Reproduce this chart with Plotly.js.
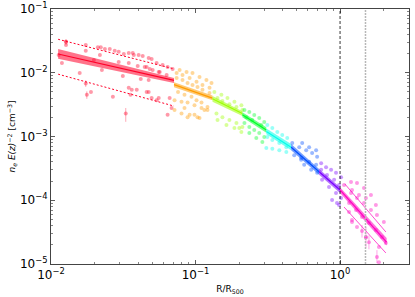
<!DOCTYPE html>
<html><head><meta charset="utf-8">
<script src="https://cdn.plot.ly/plotly-3.0.1.min.js"></script>
<style>html,body{margin:0;padding:0;background:#fff}#chart{width:415px;height:297px}</style>
</head><body><div id="chart"></div>
<script>
// segment colours (gist_rainbow samples)
const segColors = ['#ff0029','#ff9c00','#9dff00','#00ff28','#00ffea','#004eff','#7900ff','#ff00bf'];
// segment extents and fitted central profile
const segStart = [0.0112, 0.071, 0.131, 0.211, 0.309, 0.459, 0.716, 1.0];
const segEnd   = [0.071, 0.131, 0.211, 0.309, 0.459, 0.716, 1.0, 2.1];
const centerStart = [0.0197, 0.0065, 0.0039, 0.0022, 0.0012, 0.00068, 0.00028, 0.000145];
const centerEnd   = [0.0076, 0.0040, 0.0023, 0.00126, 0.00068, 0.00028, 0.000145, 0.000022];
const bandLoStart = [0.0166, 0.0059, 0.0035, 0.0020, 0.00108, 0.00061, 0.000252, 0.00013];
const bandHiStart = [0.0235, 0.0071, 0.0043, 0.0024, 0.00133, 0.00076, 0.00031, 0.00016];
const bandLoEnd   = [0.0069, 0.0037, 0.0021, 0.00114, 0.00061, 0.000252, 0.00013, 0.0000195];
const bandHiEnd   = [0.0083, 0.0044, 0.0025, 0.0014, 0.00076, 0.00031, 0.00016, 0.0000255];

// red envelope (dashed)
const redEnvX = [0.0112, 0.071];
const redUpperY = [0.0335, 0.0115];
const redLowerY = [0.0095, 0.0030];
// magenta envelope (thin)
const magEnvX = [1.08, 2.075];
const magUpperY = [0.00018, 0.0000318];
const magEnvLoX = [1.066, 2.075];
const magLowerY = [0.0000783, 0.0000149];

// scatter points per segment
const redX = [0.0127,0.0127,0.0174,0.0174,0.0211,0.0221,0.0236,0.0255,0.0276,0.0294,0.0319,0.0345,0.0374,0.0404,0.0431,0.0474,0.0497,0.0538,0.0218,0.0294,0.0345,0.0398,0.0445,0.0482,0.0556,0.0119,0.0225,0.0198,0.0158,0.0314,0.0474,0.0418,0.0189,0.0345,0.0362,0.0355,0.0474,0.0497,0.0556,0.0268,0.0368,0.0592,0.0641,0.0694,0.0631,0.0565,0.0392,0.0459,0.0538,0.0662,0.0683,0.0505,0.0459,0.0113,0.0641];
const redY = [0.0307,0.0272,0.0272,0.0222,0.0251,0.0251,0.0236,0.0236,0.0222,0.0214,0.0197,0.0204,0.019,0.019,0.0183,0.017,0.0164,0.0142,0.019,0.0148,0.0142,0.0128,0.0123,0.0115,0.0103,0.0142,0.011,0.0158,0.0099,0.0089,0.0077,0.008,0.005,0.0058,0.0054,0.0045,0.005,0.004,0.004,0.0042,0.0204,0.0132,0.0123,0.0115,0.0092,0.0103,0.0054,0.005,0.0037,0.004,0.0028,0.011,0.0123,0.019,0.0022];
const orangeX = [0.0776,0.0867,0.0953,0.1066,0.119,0.129, 0.074,0.0813,0.091,0.1016,0.1117,0.125, 0.074,0.0813,0.0881,0.0953,0.1032,0.1117,0.125, 0.0757,0.0839,0.0938,0.1016,0.110,0.121, 0.0716,0.080,0.0881,0.0984,0.110,0.121, 0.080,0.0881,0.0984,0.1066,0.0839,0.1153,0.0716,0.091,0.1032];
const orangeY = [0.011,0.0103,0.0099,0.0086,0.0077,0.0069, 0.0099,0.0092,0.0083,0.0072,0.0064,0.0058, 0.0083,0.0077,0.0069,0.0064,0.006,0.0054,0.0048, 0.005,0.0045,0.0042,0.0037,0.0034,0.0029, 0.0037,0.0035,0.0034,0.0031,0.0028,0.0026, 0.0023,0.002,0.0022,0.00195,0.0028,0.0026,0.0026,0.0022,0.002];
const ygX = [0.135,0.151,0.1663,0.1858,0.2077, 0.142,0.1535,0.1716,0.1919,0.211, 0.1396,0.1535,0.1716,0.1919,0.211, 0.142,0.1637,0.1858,0.2077,0.201];
const ygY = [0.005,0.0045,0.004,0.0035,0.0031, 0.004,0.0036,0.0032,0.0029,0.0026, 0.0023,0.002,0.00182,0.00163,0.00141, 0.00182,0.00151,0.00136,0.00118,0.00136];
const greenX = [0.218,0.2357,0.255,0.276,0.299, 0.225,0.247,0.285, 0.218,0.2357,0.255,0.276,0.299, 0.2357,0.2634,0.29];
const greenY = [0.0026,0.00242,0.00217,0.00195,0.00169, 0.002,0.00182,0.00151, 0.00163,0.00141,0.00126,0.00113,0.00098, 0.00113,0.00095,0.00082];
const cyanX = [0.314,0.34,0.368,0.398,0.431, 0.314,0.34,0.38,0.425, 0.309,0.34,0.38,0.425];
const cyanY = [0.00151,0.00136,0.00118,0.00106,0.00095, 0.00098,0.00088,0.00079,0.00068, 0.00066,0.00064,0.00061,0.00057];
const blueX = [0.467,0.522,0.583,0.641,0.694, 0.547,0.611,0.683, 0.482,0.538,0.611,0.683, 0.565,0.631,0.694,0.538];
const blueY = [0.00079,0.00068,0.00061,0.00055,0.00048, 0.00079,0.00068,0.00061, 0.00051,0.00046,0.0004,0.00036, 0.00036,0.0003,0.00027,0.00043];
const violetX = [0.74,0.8,0.867,0.938,1.016, 0.74,0.813,0.91,0.984, 0.751,0.839,0.938,1.016, 0.881,0.984,0.953];
const violetY = [0.00038,0.00033,0.0003,0.00027,0.00023, 0.0003,0.00025,0.00021,0.000173, 0.00021,0.000161,0.00013,0.000108, 0.000101,0.0000842,0.0000905];
const magX = [1.191,1.31,1.465,1.636,1.77, 1.066,1.21,1.352,1.51, 1.191,1.31,1.465,1.636,1.8,2.01, 1.154,1.29,1.419,1.585,1.77,1.95,2.075, 1.154,1.21,1.31,1.858, 1.21,1.51,1.858];
const magY = [0.000193,0.000186,0.000156,0.000121,0.0000842, 0.000173,0.000145,0.000121,0.000108, 0.00013,0.000108,0.0000905,0.0000703,0.0000587,0.0000456, 0.0000905,0.0000703,0.0000546,0.000044,0.0000341,0.0000265,0.0000213, 0.0000654,0.000049,0.000038,0.0000185, 0.0000456,0.0000265,0.0000107];

// points with error bars
const redErrX = [0.0127, 0.0174, 0.0177, 0.0329];
const redErrY = [0.0307, 0.0068, 0.0045, 0.0023];
const redErrPlus = [0.003, 0.0008, 0.0006, 0.0005];
const redErrMinus = [0.0035, 0.0008, 0.0006, 0.0006];
const magErrX = [1.419, 1.51, 1.8, 1.585];
const magErrY = [0.000033, 0.000026, 0.0000129, 0.000022];
const magErrPlus = [0.000008, 0.000012, 0.0000036, 0.000006];
const magErrMinus = [0.000007, 0.000008, 0.0000026, 0.000005];

// reference radii (vertical lines)
const vlineX = [1.0, 1.5];

// ticks
const xTickVals = [0.01, 0.1, 1];
const xTickText = ['10<sup>\u22122</sup>', '10<sup>\u22121</sup>', '10<sup>0</sup>'];
const yTickVals = [1e-5, 1e-4, 1e-3, 1e-2, 1e-1];
const yTickText = ['10<sup>\u22125</sup>', '10<sup>\u22124</sup>', '10<sup>\u22123</sup>', '10<sup>\u22122</sup>', '10<sup>\u22121</sup>'];

function rgba(hex, a) {
  const r = parseInt(hex.slice(1,3),16), g = parseInt(hex.slice(3,5),16), b = parseInt(hex.slice(5,7),16);
  return `rgba(${r},${g},${b},${a})`;
}
function minorTicks(d0, d1, maxVal) {
  const out = [];
  for (let d = d0; d <= d1; d++) for (let m = 2; m <= 9; m++) { const v = m * Math.pow(10, d); if (v <= maxVal) out.push(v); }
  return out;
}

const traces = [];
const ptsSets = [[redX,redY],[orangeX,orangeY],[ygX,ygY],[greenX,greenY],[cyanX,cyanY],[blueX,blueY],[violetX,violetY],[magX,magY]];
ptsSets.forEach((p, i) => {
  traces.push({x:p[0], y:p[1], type:'scatter', mode:'markers', hoverinfo:'skip',
    marker:{size:4, color:rgba(segColors[i],0.4), line:{width:0}}});
});
traces.push({x:redErrX, y:redErrY, type:'scatter', mode:'markers', hoverinfo:'skip',
  marker:{size:4, color:rgba(segColors[0],0.4)},
  error_y:{type:'data', array:redErrPlus, arrayminus:redErrMinus, symmetric:false, color:rgba(segColors[0],0.35), thickness:1, width:0}});
traces.push({x:magErrX, y:magErrY, type:'scatter', mode:'markers', hoverinfo:'skip',
  marker:{size:4, color:rgba(segColors[7],0.4)},
  error_y:{type:'data', array:magErrPlus, arrayminus:magErrMinus, symmetric:false, color:rgba(segColors[7],0.35), thickness:1, width:0}});

for (let i = 0; i < segStart.length; i++) {
  traces.push({x:[segStart[i], segEnd[i], segEnd[i], segStart[i], segStart[i]],
    y:[bandLoStart[i], bandLoEnd[i], bandHiEnd[i], bandHiStart[i], bandLoStart[i]],
    type:'scatter', mode:'lines', fill:'toself', fillcolor:rgba(segColors[i],0.55),
    line:{width:0}, hoverinfo:'skip'});
  traces.push({x:[segStart[i], segEnd[i]], y:[centerStart[i], centerEnd[i]], type:'scatter', mode:'lines',
    line:{color:segColors[i], width:1.2}, hoverinfo:'skip'});
}
traces.push({x:redEnvX, y:redUpperY, type:'scatter', mode:'lines', line:{color:segColors[0], width:1, dash:'2px,2px'}, hoverinfo:'skip'});
traces.push({x:redEnvX, y:redLowerY, type:'scatter', mode:'lines', line:{color:segColors[0], width:1, dash:'2px,2px'}, hoverinfo:'skip'});
traces.push({x:magEnvX, y:magUpperY, type:'scatter', mode:'lines', line:{color:segColors[7], width:0.7}, hoverinfo:'skip'});
traces.push({x:magEnvLoX, y:magLowerY, type:'scatter', mode:'lines', line:{color:segColors[7], width:0.7}, hoverinfo:'skip'});

const shapes = [
  {type:'line', xref:'x', yref:'paper', x0:vlineX[0], x1:vlineX[0], y0:0, y1:1, line:{color:'#000', width:0.8, dash:'3px,2px'}},
  {type:'line', xref:'x', yref:'paper', x0:vlineX[1], x1:vlineX[1], y0:0, y1:1, line:{color:'#b8b8b8', width:1.5, dash:'2px,1px'}}
];

const axisCommon = {type:'log', ticks:'inside', ticklen:4, tickwidth:0.8, tickcolor:'#333',
  showline:true, linecolor:'#444', linewidth:1, mirror:'ticks', showgrid:false, zeroline:false,
  tickfont:{family:'DejaVu Sans', size:12, color:'#000'}};

const layout = {
  width:415, height:297,
  margin:{l:51, r:6, t:9, b:33},
  paper_bgcolor:'#fff', plot_bgcolor:'#fff', showlegend:false,
  font:{family:'DejaVu Sans', size:12, color:'#000'},
  shapes: shapes,
  xaxis: Object.assign({}, axisCommon, {range:[-2, Math.log10(3)], tickmode:'array', tickvals:xTickVals, ticktext:xTickText,
    minor:{ticks:'inside', ticklen:2, tickwidth:0.6, tickcolor:'#333', tickvals:minorTicks(-2,0,3), showgrid:false},
    title:{text:'R/R<sub>500</sub>', font:{family:'DejaVu Sans', size:9, color:'#000'}, standoff:4}}),
  yaxis: Object.assign({}, axisCommon, {range:[-5, -1], tickmode:'array', tickvals:yTickVals, ticktext:yTickText,
    minor:{ticks:'inside', ticklen:2, tickwidth:0.6, tickcolor:'#333', tickvals:minorTicks(-5,-2,0.1), showgrid:false},
    title:{text:'<i>n<sub>e</sub> E(z)</i><sup>\u22122</sup> [cm<sup>\u22123</sup>]', font:{family:'DejaVu Sans', size:9, color:'#000'}, standoff:2}})
};

Plotly.newPlot('chart', traces, layout, {staticPlot:true, displayModeBar:false});
</script>
</body></html>
